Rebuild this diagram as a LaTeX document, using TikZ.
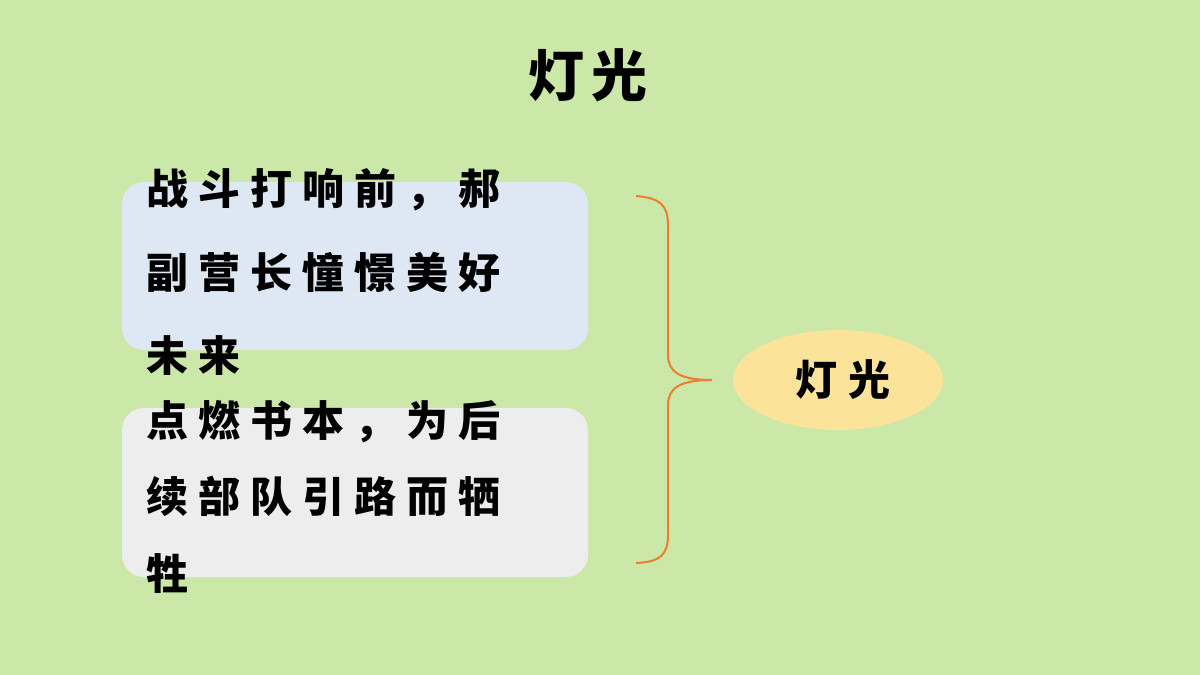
\documentclass[tikz,border=0pt]{standalone}
\usetikzlibrary{shapes.geometric}
\usepackage{fontspec}
\newfontfamily\cjk[LetterSpace=24]{Noto Sans CJK SC}
\newfontfamily\cjkt[LetterSpace=12]{Noto Sans CJK SC}
\definecolor{bg}{HTML}{CCE8A8}
\definecolor{boxa}{HTML}{DEE8F4}
\definecolor{boxb}{HTML}{EDEDED}
\definecolor{ell}{HTML}{FBE39A}
\definecolor{br}{HTML}{ED7D31}
\begin{document}
\begin{tikzpicture}[x=1pt,y=-1pt,
  line/.style={anchor=west,inner sep=0pt,font=\cjk\bfseries\fontsize{42}{42}\selectfont},
  box/.style={rounded corners=22pt,draw=none}]
\fill[bg] (0,0) rectangle (1200,675);
\useasboundingbox (0,0) rectangle (1200,675);
\node[font=\cjkt\bfseries\fontsize{56}{56}\selectfont] (title) at (588,75) {灯光};
\fill[box,boxa] (122,182) rectangle (588,350);
\fill[box,boxb] (122,408) rectangle (588,577);
\node[line] (l1) at (146,190) {战斗打响前，郝};
\node[line] (l2) at (146,272) {副营长憧憬美好};
\node[line] (l3) at (146,356) {未来};
\node[line] (l4) at (146,422) {点燃书本，为后};
\node[line] (l5) at (146,496) {续部队引路而牺};
\node[line] (l6) at (146,574) {牲};
\node[ellipse,fill=ell,minimum width=210pt,minimum height=100pt,font=\cjk\bfseries\fontsize{42}{42}\selectfont] (e) at (838,380) {\hspace*{10pt}灯光};
\coordinate (tip) at (712,380);
\draw[br,line width=2pt] (636,196) .. controls (660,198) and (668,205) .. (668,225)
  -- (668,355) .. controls (668,372) and (680,380) .. (tip)
  .. controls (680,380) and (668,388) .. (668,405)
  -- (668,535) .. controls (668,555) and (660,562) .. (636,563);
\end{tikzpicture}
\end{document}
